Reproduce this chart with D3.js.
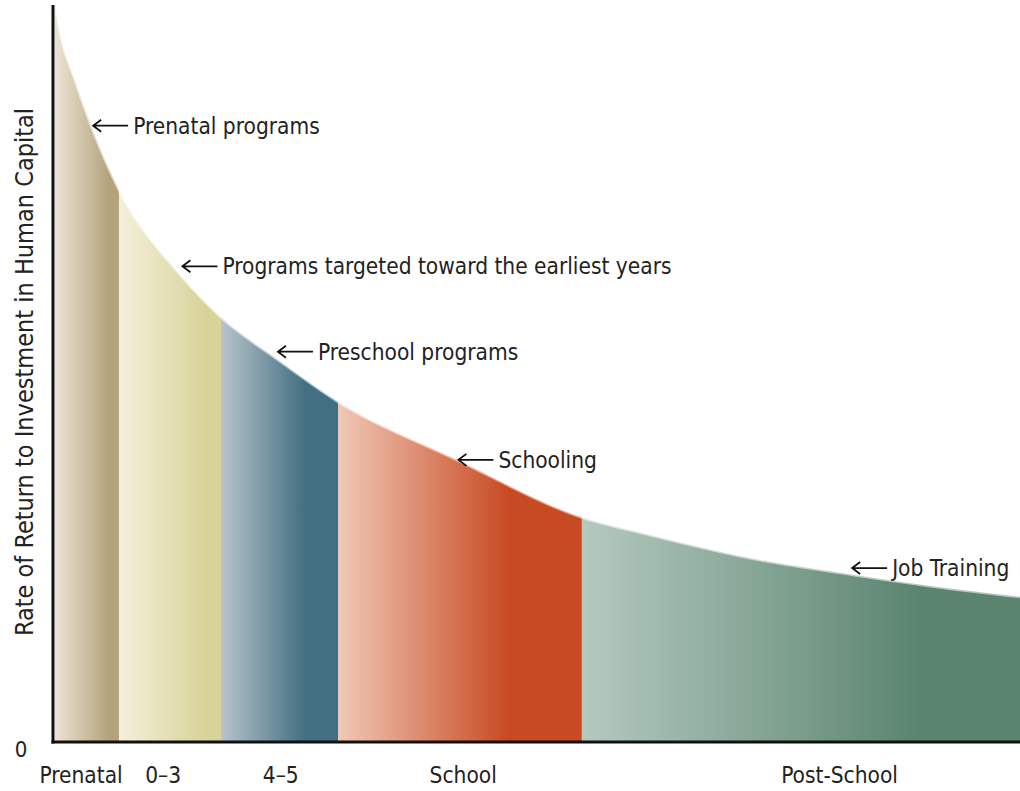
<!DOCTYPE html>
<html>
<head>
<meta charset="utf-8">
<script src="https://cdn.jsdelivr.net/npm/d3@7"></script>
<style>
  html, body { margin: 0; padding: 0; background: #fff; }
  svg { display: block; }
  text { font-family: "DejaVu Sans Condensed", "DejaVu Sans", sans-serif; fill: #222; }
</style>
</head>
<body>
<svg id="chart" width="1020" height="791"></svg>
<script>
// ---- Data ----
// Position along the life cycle (0 = conception, 100 = end of working life, arbitrary units)
const stageX  = [0, 0.52, 2.07, 3.4, 6.63, 12.8, 17.2, 23.1, 29.33, 41.66, 54.6, 61.66, 73.06, 82.69, 91.7, 100];
// Rate of return (relative units, 0-100)
const returns = [100, 96.2, 89.8, 84.8, 74.9, 63.6, 57.6, 51.8, 46.1, 38.2, 30.4, 28.0, 24.6, 22.6, 20.9, 19.6];

const stageNames     = ["Prenatal", "0\u20133", "4\u20135", "School", "Post-School"];
const stageBounds    = [0, 6.63, 17.2, 29.33, 54.6, 100];
const stageLabelPos  = [2.7, 11.2, 23.4, 42.3, 81.3];
const stageLightCol  = ["#ece4d5", "#f4f0dc", "#b9c4cc", "#f0c9b6", "#b5cabf"];
const stageDarkCol   = ["#b3a37b", "#d8d399", "#426f81", "#c84a23", "#5a8470"];
const stageDarkStop  = [0.85, 0.85, 0.72, 0.7, 0.77];

const annotLabels = ["Prenatal programs", "Programs targeted toward the earliest years",
                     "Preschool programs", "Schooling", "Job Training"];
const annotX = [3.85, 13.1, 23.0, 41.7, 82.5];
const annotY = [83.6, 64.5, 52.9, 38.2, 23.5];

const yAxisTitle = "Rate of Return to Investment in Human Capital";
const yTickLabels = ["0"];

// ---- Layout ----
const svg = d3.select("#chart");
const margin = { left: 55, right: 0, top: 5, bottom: 50 };
const W = 1020, H = 791;

const x = d3.scaleLinear().domain([0, 100]).range([margin.left, W - margin.right]);
const y = d3.scaleLinear().domain([0, 100]).range([H - margin.bottom, margin.top]);

const pts = stageX.map((d, i) => ({ x: d, y: returns[i] }));

const area = d3.area()
  .x(d => x(d.x))
  .y0(y(0))
  .y1(d => y(d.y))
  .curve(d3.curveMonotoneX);

const line = d3.line()
  .x(d => x(d.x))
  .y(d => y(d.y))
  .curve(d3.curveMonotoneX);

const defs = svg.append("defs");
defs.append("clipPath").attr("id", "underCurve")
  .append("path").attr("d", area(pts));

stageNames.forEach((n, i) => {
  const g = defs.append("linearGradient")
    .attr("id", "grad" + i)
    .attr("x1", "0%").attr("x2", "100%").attr("y1", "0%").attr("y2", "0%");
  g.append("stop").attr("offset", "0%").attr("stop-color", stageLightCol[i]);
  g.append("stop").attr("offset", (stageDarkStop[i] * 100) + "%").attr("stop-color", stageDarkCol[i]);
  g.append("stop").attr("offset", "100%").attr("stop-color", stageDarkCol[i]);
});

const fills = svg.append("g").attr("clip-path", "url(#underCurve)");
fills.selectAll("rect")
  .data(stageNames)
  .join("rect")
  .attr("x", (d, i) => x(stageBounds[i]))
  .attr("width", (d, i) => x(stageBounds[i + 1]) - x(stageBounds[i]))
  .attr("y", y(100))
  .attr("height", y(0) - y(100))
  .attr("fill", (d, i) => "url(#grad" + i + ")");

// soft light edge along the curve
svg.append("path")
  .attr("d", line(pts))
  .attr("fill", "none")
  .attr("stroke", "#ffffff")
  .attr("stroke-opacity", 0.55)
  .attr("stroke-width", 3);

// ---- Axes ----
const xAxis = d3.axisBottom(x).tickValues([]).tickSizeOuter(0);
const gx = svg.append("g").attr("transform", `translate(0,${y(0) + 1})`).call(xAxis);
gx.select(".domain").attr("stroke", "#111").attr("stroke-width", 3)
  .attr("d", `M${x(0) - 3.5},0H${W}`);

const yAxis = d3.axisLeft(y).tickValues([]).tickSizeOuter(0);
const gy = svg.append("g").attr("transform", `translate(${x(0) - 2},0)`).call(yAxis);
gy.select(".domain").attr("stroke", "#111").attr("stroke-width", 3)
  .attr("d", `M0,${y(100)}V${y(0) + 2.5}`);

svg.append("text")
  .attr("x", 21).attr("y", y(0) + 16)
  .attr("text-anchor", "middle")
  .attr("font-size", 22)
  .text(yTickLabels[0]);

svg.append("text")
  .attr("transform", `translate(33,${(y(0) + y(100)) / 2 - 1}) rotate(-90)`)
  .attr("text-anchor", "middle")
  .attr("font-size", 25)
  .text(yAxisTitle);

svg.selectAll("text.stage")
  .data(stageNames)
  .join("text")
  .attr("class", "stage")
  .attr("x", (d, i) => x(stageLabelPos[i]))
  .attr("y", y(0) + 42)
  .attr("text-anchor", "middle")
  .attr("font-size", 22.5)
  .text(d => d);

// ---- Annotations ----
const ann = svg.selectAll("g.ann")
  .data(annotLabels)
  .join("g")
  .attr("class", "ann")
  .attr("transform", (d, i) => `translate(${x(annotX[i])},${y(annotY[i])})`);

ann.append("path")
  .attr("d", "M1,0H36M9,-6L1,0L9,6")
  .attr("fill", "none")
  .attr("stroke", "#111")
  .attr("stroke-width", 1.8);

ann.append("text")
  .attr("x", 41)
  .attr("y", 8)
  .attr("font-size", 22.5)
  .text(d => d);
</script>
</body>
</html>
